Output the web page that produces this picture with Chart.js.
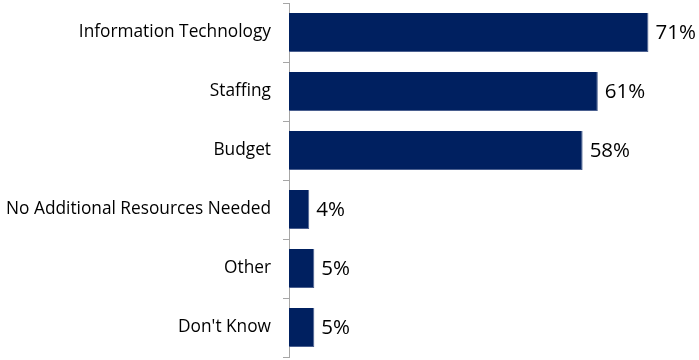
<!DOCTYPE html>
<html>
<head>
<meta charset="utf-8">
<script src="https://cdn.jsdelivr.net/npm/chart.js@4"></script>
<style>
    html, body { margin: 0; padding: 0; background: #fff; }
    #wrap { width: 699px; height: 360px; }
</style>
</head>
<body>
<div id="wrap"><canvas id="resourcesChart"></canvas></div>
<script>
const categories = ['Information Technology', 'Staffing', 'Budget', 'No Additional Resources Needed', 'Other', "Don't Know"];
const percentages = [71, 61, 58, 4, 5, 5];

// draws the "NN%" text just past the end of each bar
const valueLabels = {
    id: 'valueLabels',
    afterDatasetsDraw(chart) {
        const ctx = chart.ctx;
        const meta = chart.getDatasetMeta(0);
        ctx.save();
        ctx.font = '20.5px "Open Sans", sans-serif';
        ctx.fillStyle = '#000';
        ctx.textAlign = 'left';
        ctx.textBaseline = 'middle';
        meta.data.forEach((bar, i) => {
            ctx.fillText(percentages[i] + '%', bar.x + 7, bar.y + 1);
        });
        ctx.restore();
    }
};

new Chart(document.getElementById('resourcesChart'), {
    type: 'bar',
    data: {
        labels: categories,
        datasets: [{
            data: percentages,
            backgroundColor: '#002060',
            borderColor: '#4a5f8f',
            borderWidth: { top: 0, left: 0, right: 1, bottom: 1 },
            borderSkipped: 'start',
            barPercentage: 0.66,
            categoryPercentage: 1.0
        }]
    },
    options: {
        indexAxis: 'y',
        responsive: true,
        maintainAspectRatio: false,
        animation: false,
        layout: { padding: { top: 3, bottom: 3, right: 5, left: 0 } },
        plugins: {
            legend: { display: false },
            tooltip: { enabled: false }
        },
        scales: {
            x: {
                display: false,
                min: 0,
                max: 80
            },
            y: {
                afterFit(scale) {
                    scale.width = 289;
                    scale.paddingTop = 0;
                    scale.paddingBottom = 0;
                },
                grid: {
                    drawOnChartArea: false,
                    tickLength: 6,
                    color: '#a6a6a6'
                },
                border: { color: '#a6a6a6', width: 1 },
                ticks: {
                    color: '#000',
                    padding: 12,
                    font: { family: '"Open Sans", sans-serif', size: 17.3 }
                }
            }
        }
    },
    plugins: [valueLabels]
});
</script>
</body>
</html>
